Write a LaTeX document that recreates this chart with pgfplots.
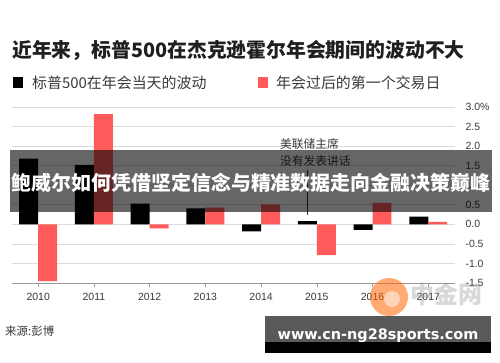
\documentclass[border=0pt]{standalone}
\usepackage{pgfplots}
\pgfplotsset{compat=1.18}
\usepackage{fontspec}
\setmainfont{Noto Sans CJK SC}
\newfontfamily\hv{Liberation Sans}
\newfontfamily\dvb{DejaVu Sans}
\definecolor{barred}{HTML}{FF5B5B}
\definecolor{txtgray}{HTML}{3A3A3A}
\begin{document}
\begin{tikzpicture}[x=1bp,y=-1bp]
\path[use as bounding box, fill=white] (0,0) rectangle (500,362);
\coordinate (axsw) at (12,283);
% title and legend
\node[anchor=west, inner sep=0, font=\fontsize{19.9}{20}\selectfont\bfseries, text=black!88] at (12,50) {近年来，标普500在杰克逊霍尔年会期间的波动不大};
\fill[black] (13,77) rectangle (23,88);
\node[anchor=west, inner sep=0, font=\fontsize{15}{16}\selectfont, text=txtgray] at (32,82.5) {标普500在年会当天的波动};
\fill[barred] (258,77) rectangle (268,88);
\node[anchor=west, inner sep=0, font=\fontsize{15}{16}\selectfont, text=txtgray] at (276,82.5) {年会过后的第一个交易日};
% chart
\begin{axis}[
  at={(axsw)}, anchor=south west,
  scale only axis, width=443bp, height=176bp,
  xmin=-0.47, xmax=7.48, ymin=-1.5, ymax=3.0,
  axis x line*=bottom, axis y line*=right,
  y axis line style={draw=none},
  x axis line style={draw=gray!80, line width=0.8pt},
  xtick={0,...,7},
  xticklabels={2010,2011,2012,2013,2014,2015,2016,2017},
  ytick={-1.5,-1,-0.5,0,0.5,1,1.5,2,2.5,3},
  yticklabels={-1.5,-1.0,-0.5,0.0,0.5,1.0,1.5,2.0,2.5,3.0\%},
  /pgf/number format/assume math mode=true,
  ymajorgrids, grid style={draw=gray!28, line width=0.6pt},
  ytick style={draw=none},
  xtick style={draw=gray!80, line width=0.6pt},
  tick align=outside, major tick length=4bp,
  xticklabel style={font=\hv\fontsize{10.5}{11}\selectfont, text=txtgray, yshift=-3bp},
  yticklabel style={font=\hv\fontsize{10.5}{11}\selectfont, text=txtgray, anchor=west, xshift=3bp},
  clip=false,
]
\addplot[ybar, bar width=0.34, bar shift=-0.17, fill=black, draw=none] coordinates {
 (0,1.68) (1,1.52) (2,0.53) (3,0.41) (4,-0.18) (5,0.08) (6,-0.14) (7,0.20)};
\addplot[ybar, bar width=0.34, bar shift=0.17, fill=barred, draw=none] coordinates {
 (0,-1.45) (1,2.82) (2,-0.10) (3,0.43) (4,0.51) (5,-0.79) (6,0.55) (7,0.06)};
\draw[black!80, line width=0.6pt] (axis cs:4.83,0.25) -- (axis cs:4.83,1.40);
\end{axis}
% annotation
\node[anchor=west, inner sep=0, font=\fontsize{11.8}{12}\selectfont, text=txtgray] at (280,144) {美联储主席};
\node[anchor=west, inner sep=0, font=\fontsize{11.8}{12}\selectfont, text=txtgray] at (280,161) {没有发表讲话};
% faded logo watermark
\fill[orange!80!red, opacity=0.55] (389,297) circle (19);
\fill[white, opacity=0.5] (392,299) circle (8);
\node[anchor=west, inner sep=0, font=\fontsize{24}{24}\selectfont\bfseries, text=gray, opacity=0.3] at (410,294) {中金网};
% banner
\fill[black, opacity=0.6] (10,150) rectangle (492,212);
\node[inner sep=0, font=\fontsize{20}{21}\selectfont\bfseries, text=white] at (251,183) {鲍威尔如何凭借坚定信念与精准数据走向金融决策巅峰};
% source
\node[anchor=west, inner sep=0, font=\fontsize{11.5}{12}\selectfont, text=txtgray] at (5,331) {来源:彭博};
% bottom watermark
\fill[black, opacity=0.65] (265,316) rectangle (491,342);
\fill[black] (265,342) rectangle (491,353);
\node[inner sep=0, font=\dvb\bfseries\fontsize{14.5}{15}\selectfont, text=white] at (378,336) {www.cn-ng28sports.com};
\end{tikzpicture}
\end{document}
